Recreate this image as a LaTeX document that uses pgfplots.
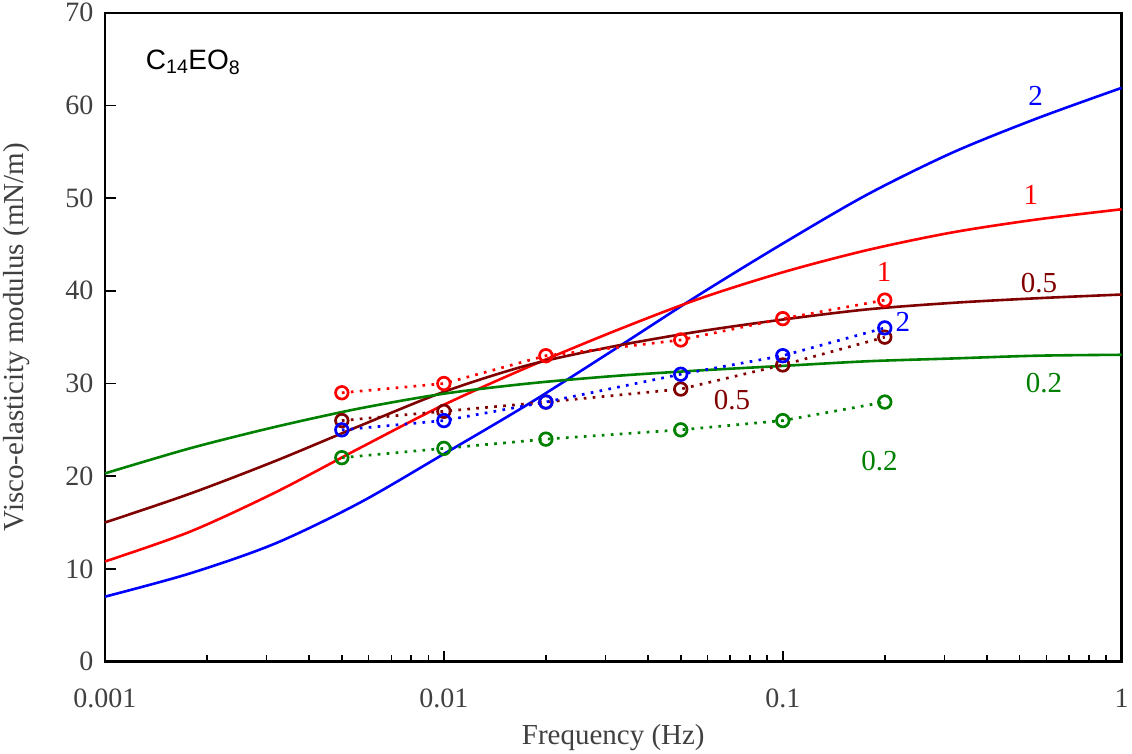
\documentclass[border=0pt]{standalone}
\usepackage{fontspec}
\setmainfont{Liberation Serif}
\setsansfont{Liberation Sans}
\usepackage{pgfplots}
\pgfplotsset{compat=1.18}

\definecolor{cblue}{RGB}{0,0,255}
\definecolor{cred}{RGB}{255,0,0}
\definecolor{cdark}{RGB}{128,0,0}
\definecolor{cgreen}{RGB}{0,128,0}
\definecolor{tickgray}{RGB}{64,64,64}

\tikzset{lab/.style={font=\fontsize{29}{32}\selectfont}}
\pgfplotsset{meas/.style={line width=2.7pt, dash pattern=on 2.7pt off 6.3pt,
  mark=o, mark size=6.3pt, mark options={solid, line width=2.7pt, fill=white}}}

\begin{document}
\begin{tikzpicture}
\begin{axis}[
  scale only axis,
  width=1017pt, height=649pt,
  xmode=log,
  xmin=0.001, xmax=1,
  ymin=0, ymax=70,
  xtick={0.001,0.01,0.1,1},
  xticklabels={0.001,0.01,0.1,1},
  ytick={0,10,...,70},
  xtick pos=lower, ytick pos=left,
  tick align=inside,
  major tick length=11pt, minor tick length=7pt,
  every tick/.style={black, line width=1.6pt},
  axis line style={line width=2.4pt},
  /pgf/number format/assume math mode=true,
  tick label style={font=\fontsize{28}{30}\selectfont, text=tickgray},
  xticklabel style={yshift=-24pt},
  yticklabel style={xshift=-8pt},
  xlabel={Frequency (Hz)},
  ylabel={Visco-elasticity modulus (mN/m)},
  label style={font=\fontsize{29}{32}\selectfont, text=tickgray},
  xlabel style={at={(axis description cs:0.5,-0.117)}, anchor=center},
  ylabel style={at={(axis description cs:-0.087,0.5)}, anchor=center},
  clip=false,
]

% model curves (quarter-decade points)
\addplot[cblue, line width=2.6pt, smooth] coordinates {
  (0.001,7.0) (0.0017783,9.5) (0.0031623,12.7) (0.0056234,17.1) (0.01,22.4)
  (0.017783,27.8) (0.031623,33.6) (0.056234,39.5) (0.1,45.1)
  (0.17783,50.4) (0.31623,54.9) (0.56234,58.6) (1,61.9)};
\addplot[cred, line width=2.6pt, smooth] coordinates {
  (0.001,10.8) (0.0017783,14.0) (0.0031623,18.2) (0.0056234,23.0) (0.01,27.7)
  (0.017783,31.8) (0.031623,35.6) (0.056234,39.1) (0.1,42.0)
  (0.17783,44.4) (0.31623,46.3) (0.56234,47.7) (1,48.8)};
\addplot[cdark, line width=2.6pt, smooth] coordinates {
  (0.001,15.0) (0.0017783,18.1) (0.0031623,21.6) (0.0056234,25.4) (0.01,29.1)
  (0.017783,32.0) (0.031623,34.0) (0.056234,35.6) (0.1,36.9)
  (0.17783,38.0) (0.31623,38.7) (0.56234,39.2) (1,39.6)};
\addplot[cgreen, line width=2.6pt, smooth] coordinates {
  (0.001,20.3) (0.0017783,23.0) (0.0031623,25.3) (0.0056234,27.3) (0.01,28.9)
  (0.017783,30.0) (0.031623,30.8) (0.056234,31.4) (0.1,31.9)
  (0.17783,32.4) (0.31623,32.7) (0.56234,33.0) (1,33.1)};

% measured points
\addplot[cred, meas] coordinates {
  (0.005,29.0) (0.01,30.0) (0.02,33.0) (0.05,34.7) (0.1,37.0) (0.2,39.0)};
\addplot[cdark, meas] coordinates {
  (0.005,26.0) (0.01,27.0) (0.02,28.0) (0.05,29.4) (0.1,32.0) (0.2,35.0)};
\addplot[cblue, meas] coordinates {
  (0.005,25.0) (0.01,26.0) (0.02,28.0) (0.05,31.0) (0.1,33.0) (0.2,36.0)};
\addplot[cgreen, meas] coordinates {
  (0.005,22.0) (0.01,23.0) (0.02,24.0) (0.05,25.0) (0.1,26.0) (0.2,28.0)};

% labels
\node[lab, text=cblue] at (axis cs:0.557,61.0) {2};
\node[lab, text=cred] at (axis cs:0.54,50.4) {1};
\node[lab, text=cdark] at (axis cs:0.57,40.8) {0.5};
\node[lab, text=cgreen] at (axis cs:0.59,30.0) {0.2};
\node[lab, text=cred] at (axis cs:0.199,42.0) {1};
\node[lab, text=cblue] at (axis cs:0.226,36.6) {2};
\node[lab, text=cdark] at (axis cs:0.0708,28.2) {0.5};
\node[lab, text=cgreen] at (axis cs:0.193,21.6) {0.2};
\node[font=\sffamily\fontsize{28}{30}\selectfont, anchor=west]
  at (axis cs:0.00129,64.7) {C\textsubscript{14}EO\textsubscript{8}};
\end{axis}
\end{tikzpicture}
\end{document}
